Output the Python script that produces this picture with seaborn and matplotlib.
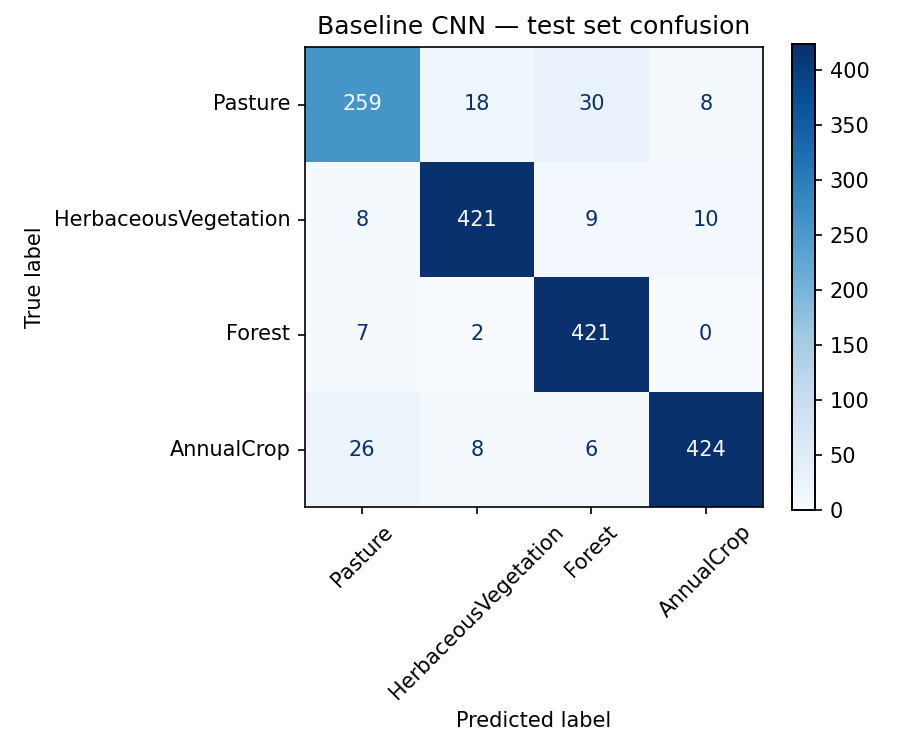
import numpy as np
import matplotlib
matplotlib.use('Agg')
import matplotlib.pyplot as plt
import seaborn as sns

# class labels and confusion counts (rows = true, cols = predicted)
classes = ['Pasture', 'HerbaceousVegetation', 'Forest', 'AnnualCrop']
row_pasture = [259, 18, 30, 8]
row_herb = [8, 421, 9, 10]
row_forest = [7, 2, 421, 0]
row_annual = [26, 8, 6, 424]

cm = np.array([row_pasture, row_herb, row_forest, row_annual])

sns.set_style('white')
plt.rcParams['font.family'] = ['DejaVu Sans']
plt.rcParams['text.color'] = 'black'
plt.rcParams['axes.labelcolor'] = 'black'
plt.rcParams['xtick.color'] = 'black'
plt.rcParams['ytick.color'] = 'black'
plt.rcParams['axes.edgecolor'] = 'black'

fig = plt.figure(figsize=(6, 5), dpi=150)
ax = fig.add_axes([305 / 900, (750 - 507) / 750, 458 / 900, 460 / 750])
cax = fig.add_axes([792 / 900, (750 - 510) / 750, 23 / 900, 466 / 750])

cmap = plt.get_cmap('Blues')
thresh = (cm.max() + cm.min()) / 2.0
sns.heatmap(cm, ax=ax, cbar_ax=cax, cmap=cmap, vmin=cm.min(), vmax=cm.max(),
            annot=False, square=False, linewidths=0)

# annotations like sklearn's ConfusionMatrixDisplay
for i in range(cm.shape[0]):
    for j in range(cm.shape[1]):
        color = cmap(0.0) if cm[i, j] >= thresh else cmap(1.0)
        ax.text(j + 0.5, i + 0.5, str(cm[i, j]), ha='center', va='center',
                color=color, fontsize=10)

ax.set_xticks(np.arange(len(classes)) + 0.5)
ax.set_yticks(np.arange(len(classes)) + 0.5)
ax.set_xticklabels(classes, rotation=45, ha='center', rotation_mode='default')
ax.set_yticklabels(classes, rotation=0)
ax.tick_params(axis='both', which='both', length=3.5, width=0.8, bottom=True, left=True,
               labelsize=10, color='black', labelcolor='black')
for spine in ax.spines.values():
    spine.set_visible(True)
    spine.set_color('black')
    spine.set_linewidth(0.8)

ax.set_xlabel('Predicted label', fontsize=10, color='black')
ax.set_ylabel('True label', fontsize=10, color='black')
ax.set_title('Baseline CNN \u2014 test set confusion', fontsize=12, color='black')

cax.set_yticks(np.arange(0, 401, 50))
cax.tick_params(labelsize=10, length=3.5, width=0.8, right=True, color='black',
                labelcolor='black')
for spine in cax.spines.values():
    spine.set_visible(True)
    spine.set_color('black')
    spine.set_linewidth(0.8)

fig.savefig('out.png', dpi=150)
